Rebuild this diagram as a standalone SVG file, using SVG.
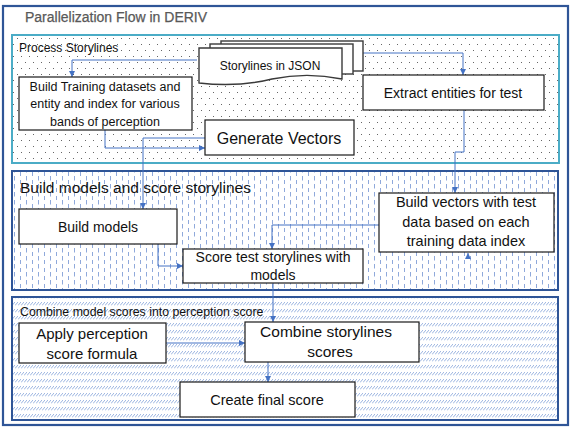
<svg xmlns="http://www.w3.org/2000/svg" width="572" height="429" viewBox="0 0 572 429">
<defs>
<pattern id="dots" width="8" height="12" patternUnits="userSpaceOnUse">
<rect x="1" y="2" width="1" height="1" fill="#666"/>
<rect x="5" y="8" width="1" height="1" fill="#666"/>
</pattern>
<pattern id="vdash" width="12" height="8" patternUnits="userSpaceOnUse">
<rect x="2" y="0" width="1" height="4.5" fill="#8fa9db"/>
<rect x="8" y="4" width="1" height="4.5" fill="#8fa9db"/>
</pattern>
<pattern id="diag" width="3" height="7" patternUnits="userSpaceOnUse">
<line x1="0" y1="4.5" x2="3" y2="1" stroke="#8eaadc" stroke-width="0.9"/>
</pattern>
<marker id="arr" markerWidth="6" markerHeight="6" refX="6" refY="3" orient="auto" markerUnits="userSpaceOnUse">
<path d="M0,0 L6,3 L0,6 z" fill="#4472c4"/>
</marker>
</defs>
<style>
text{font-family:"Liberation Sans",Arial,sans-serif;fill:#111}
.box{fill:#fff;stroke:#1a1a1a;stroke-width:1.2}
.doc{fill:#fff;stroke:#3a3a3a;stroke-width:1.4}
.c{fill:none;stroke:#4472c4;stroke-width:1;marker-end:url(#arr)}
.m{text-anchor:middle}
</style>
<rect x="3" y="6" width="565" height="419" fill="#fff" stroke="#2f5597" stroke-width="2.2"/>
<text x="25" y="22" font-size="14" style="fill:#595959;stroke:#595959;stroke-width:0.25">Parallelization Flow in DERIV</text>

<g id="panel-process">
<rect x="12" y="35" width="547" height="128" fill="url(#dots)" stroke="#4bacc6" stroke-width="2"/>
<text x="19" y="52" font-size="12">Process Storylines</text>
</g>
<g id="panel-build">
<rect x="12" y="171" width="546" height="119" fill="url(#vdash)" stroke="#2f5597" stroke-width="2"/>
<text x="20" y="193" font-size="15.5">Build models  and score storylines</text>
</g>
<g id="panel-combine">
<rect x="12" y="297" width="546" height="123" fill="url(#diag)" stroke="#2f5597" stroke-width="2"/>
<text x="20" y="316" font-size="12.3">Combine model scores into perception score</text>
</g>

<g id="connectors">
<path class="c" d="M197,60 H72 V77"/>
<path class="c" d="M338,53 H463 V75"/>
<path class="c" d="M105,130 V148 H205"/>
<path class="c" d="M205,138 H143 V209"/>
<path class="c" d="M464,110 V152 H455 V193"/>
<path class="c" d="M379,225 H272 V249"/>
<path class="c" d="M468,259 V253"/>
<path class="c" d="M158,244 V266 H183"/>
<path class="c" d="M273,283 V322"/>
<path class="c" d="M166,343 H245"/>
<path class="c" d="M268,362 V382"/>
</g>

<g id="storylines-json">
<rect class="doc" x="221" y="41" width="142" height="30"/>
<rect class="doc" x="210" y="44" width="143" height="30"/>
<path class="doc" d="M199,48 H342 V79 C318,74 296,74 272,79 C248,85 225,86 199,83 Z"/>
<text class="m" x="270" y="70" font-size="12">Storylines  in JSON</text>
</g>
<g id="build-training">
<rect class="box" x="19" y="77" width="173" height="53"/>
<text class="m" x="105" y="91" font-size="12.5">Build Training datasets and</text>
<text class="m" x="105" y="108" font-size="12.5">entity and index for various</text>
<text class="m" x="105" y="126" font-size="12.5">bands of perception</text>
</g>
<g id="generate-vectors">
<rect class="box" x="205" y="120" width="149" height="35"/>
<text class="m" x="279" y="144" font-size="16">Generate Vectors</text>
</g>
<g id="extract-entities">
<rect class="box" x="363" y="75" width="181" height="35"/>
<text class="m" x="453" y="98" font-size="14">Extract entities for test</text>
</g>
<g id="build-models">
<rect class="box" x="19" y="209" width="158" height="35"/>
<text class="m" x="98" y="232" font-size="14">Build models</text>
</g>
<g id="build-vectors-test">
<rect class="box" x="379" y="193" width="175" height="59"/>
<text class="m" x="466" y="207" font-size="14.5">Build vectors with test</text>
<text class="m" x="466" y="227" font-size="14.5">data based on each</text>
<text class="m" x="466" y="246" font-size="14.5">training data index</text>
</g>
<g id="score-test">
<rect class="box" x="183" y="249" width="180" height="34"/>
<text class="m" x="273" y="262" font-size="14">Score test storylines with</text>
<text class="m" x="273" y="280" font-size="14">models</text>
</g>
<g id="apply-formula">
<rect class="box" x="19" y="323" width="147" height="40"/>
<text class="m" x="92" y="339" font-size="15">Apply perception</text>
<text class="m" x="92" y="359" font-size="15">score formula</text>
</g>
<g id="combine-scores">
<rect class="box" x="245" y="322" width="174" height="40"/>
<text class="m" x="326" y="337" font-size="15.5">Combine storylines</text>
<text class="m" x="330" y="357" font-size="15.5">scores</text>
</g>
<g id="create-final">
<rect class="box" x="180" y="382" width="175" height="35"/>
<text class="m" x="267" y="405" font-size="14.5">Create final score</text>
</g>
</svg>
